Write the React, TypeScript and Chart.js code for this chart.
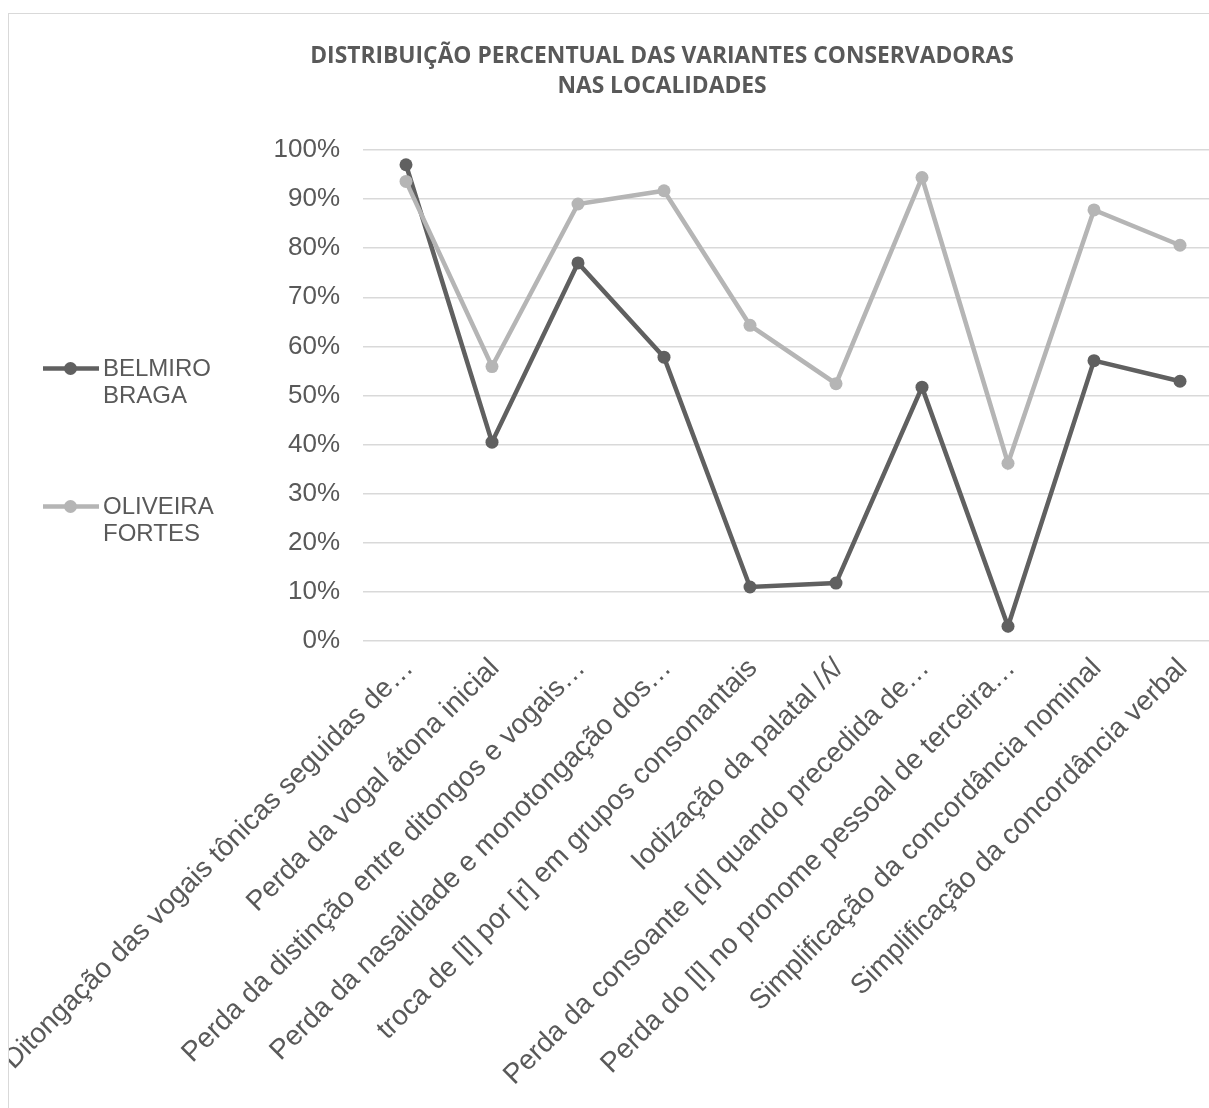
import React, { useEffect, useRef } from 'react';
import { Chart, registerables } from 'chart.js';

Chart.register(...registerables);

const TITLE_LINES = ['DISTRIBUIÇÃO PERCENTUAL DAS VARIANTES CONSERVADORAS', 'NAS LOCALIDADES'];

const CATEGORIES = [
  'Ditongação das vogais tônicas seguidas de…',
  'Perda da vogal átona inicial',
  'Perda da distinção entre ditongos e vogais…',
  'Perda da nasalidade e monotongação dos…',
  'troca de [l] por [r] em grupos consonantais',
  'Iodização da palatal /ʎ/',
  'Perda da consoante [d] quando precedida de…',
  'Perda do [l] no pronome pessoal de terceira…',
  'Simplificação da concordância nominal',
  'Simplificação da concordância verbal',
];

const SERIES_NAMES = ['BELMIRO BRAGA', 'OLIVEIRA FORTES'];
const BELMIRO_BRAGA = [97, 40.5, 77, 57.8, 11, 11.8, 51.7, 3, 57.1, 52.9];
const OLIVEIRA_FORTES = [93.6, 55.9, 89, 91.7, 64.3, 52.4, 94.4, 36.2, 87.8, 80.6];
const SERIES_COLORS = ['#606060', '#b5b5b5'];

const Y_MIN = 0;
const Y_MAX = 100;
const Y_STEP = 10;

const TEXT_COLOR = '#595959';
const GRID_COLOR = '#d9d9d9';

const CANVAS_W = 1306;
const CANVAS_H = 1100;

function LegendItem({ name, color, top }: { name: string; color: string; top: number }) {
  return (
    <div style={{ position: 'absolute', left: 43, top, display: 'flex', alignItems: 'flex-start' }}>
      <svg width={56} height={27} style={{ display: 'block', flex: 'none' }}>
        <line x1={0} y1={13.5} x2={56} y2={13.5} stroke={color} strokeWidth={4.5} />
        <circle cx={27.5} cy={13.5} r={6.5} fill={color} />
      </svg>
      <div
        style={{
          marginLeft: 4,
          width: 125,
          fontFamily: '"Liberation Sans", Arial, sans-serif',
          fontSize: 24,
          lineHeight: '26.5px',
          color: TEXT_COLOR,
        }}
      >
        {name}
      </div>
    </div>
  );
}

export default function App() {
  const canvasRef = useRef<HTMLCanvasElement | null>(null);

  useEffect(() => {
    const canvas = canvasRef.current;
    if (!canvas) return;
    const chart = new Chart(canvas, {
      type: 'line',
      data: {
        labels: CATEGORIES,
        datasets: [
          {
            label: SERIES_NAMES[0],
            data: BELMIRO_BRAGA,
            borderColor: SERIES_COLORS[0],
            backgroundColor: SERIES_COLORS[0],
            pointBackgroundColor: SERIES_COLORS[0],
            pointBorderWidth: 0,
            pointRadius: 6.5,
            borderWidth: 4.5,
            tension: 0,
            order: 1,
          },
          {
            label: SERIES_NAMES[1],
            data: OLIVEIRA_FORTES,
            borderColor: SERIES_COLORS[1],
            backgroundColor: SERIES_COLORS[1],
            pointBackgroundColor: SERIES_COLORS[1],
            pointBorderWidth: 0,
            pointRadius: 6.5,
            borderWidth: 4.5,
            tension: 0,
            order: 0,
          },
        ],
      },
      options: {
        responsive: false,
        animation: false,
        layout: { padding: 0 },
        plugins: {
          legend: { display: false },
          tooltip: { enabled: false },
          title: {
            display: true,
            text: TITLE_LINES,
            color: TEXT_COLOR,
            font: { family: '"Open Sans", sans-serif', size: 22.8, weight: 'bold', lineHeight: '30px' },
            padding: { top: 28, bottom: 48 },
          },
        },
        scales: {
          x: {
            type: 'category',
            offset: true,
            grid: { display: false, drawTicks: false, offset: true },
            border: { display: false },
            ticks: {
              autoSkip: false,
              minRotation: 45,
              maxRotation: 45,
              padding: 11,
              labelOffset: 3,
              color: TEXT_COLOR,
              font: { family: '"Liberation Sans", Arial, sans-serif', size: 28 },
            },
            afterFit: (s: any) => {
              s.paddingLeft = 0;
              s.paddingRight = 92;
              s.height = CANVAS_H - 627;
            },
          },
          y: {
            min: Y_MIN,
            max: Y_MAX,
            grid: { color: GRID_COLOR, lineWidth: 1.5, drawTicks: false },
            border: { display: false },
            ticks: {
              stepSize: Y_STEP,
              padding: 23,
              color: TEXT_COLOR,
              font: { family: '"Liberation Sans", Arial, sans-serif', size: 26 },
              callback: (v: any) => `${v}%`,
            },
            afterFit: (s: any) => {
              s.width = 354;
            },
          },
        },
      },
    } as any);
    return () => chart.destroy();
  }, []);

  return (
    <div style={{ position: 'absolute', left: 0, top: 0, width: 1209, height: 1108, overflow: 'hidden', background: '#fff' }}>
      <div
        style={{
          position: 'absolute',
          left: 8,
          top: 13,
          width: CANVAS_W,
          height: CANVAS_H,
          border: `1px solid ${GRID_COLOR}`,
          background: '#fff',
        }}
      >
        <canvas ref={canvasRef} width={CANVAS_W} height={CANVAS_H} style={{ display: 'block' }} />
      </div>
      <LegendItem name={SERIES_NAMES[0]} color={SERIES_COLORS[0]} top={355} />
      <LegendItem name={SERIES_NAMES[1]} color={SERIES_COLORS[1]} top={493} />
    </div>
  );
}
